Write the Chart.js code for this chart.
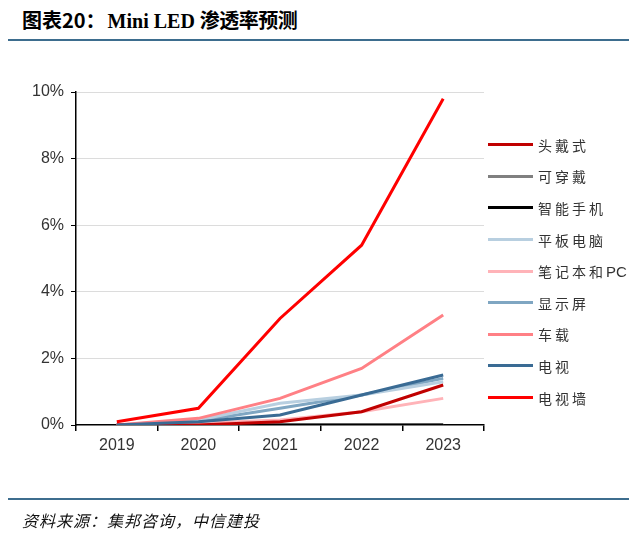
<!DOCTYPE html>
<html><head><meta charset="utf-8">
<script src="https://cdn.jsdelivr.net/npm/chart.js@4"></script>
<style>
html,body{margin:0;padding:0;background:#fff;}
#wrap{position:relative;width:629px;height:540px;overflow:hidden;}
#title{position:absolute;left:22px;top:5px;font-size:20px;font-weight:bold;color:#000;white-space:nowrap;}
#title .a{font-family:"Noto Sans CJK SC";}
#title .b{font-family:"Liberation Serif","Noto Sans CJK SC";margin-left:2px;}
.rule{position:absolute;left:8px;width:621px;height:2px;background:#3d6d8e;}
#src{position:absolute;left:22px;top:508px;font-family:"Noto Sans CJK SC";font-style:italic;font-size:16px;color:#111;white-space:nowrap;letter-spacing:1px;}
#c{position:absolute;left:0;top:0;}
#legend{position:absolute;left:488px;top:129px;}
.li{display:flex;align-items:center;height:31.6px;white-space:nowrap;}
.sw{width:45px;height:3px;margin-right:5px;}
.lt{font-family:"Noto Sans CJK SC";font-size:14px;letter-spacing:3px;color:#333;}
.lt .pc{font-family:"Liberation Sans";letter-spacing:0;font-size:15px;}
</style></head>
<body><div id="wrap">
<div id="title"><span class="a">图表20：</span><span class="b">Mini LED <span class="a" style="letter-spacing:-0.5px">渗透率预测</span></span></div>
<div class="rule" style="top:39px"></div>
<canvas id="c" width="629" height="540"></canvas>
<div id="legend"></div>
<div class="rule" style="top:498px"></div>
<div id="src">资料来源：集邦咨询，中信建投</div>
</div>
<script>
const years = ['2019','2020','2021','2022','2023'];
const seriesNames = ['头戴式','可穿戴','智能手机','平板电脑','笔记本和PC','显示屏','车载','电视','电视墙'];
const seriesColors = ['#c00000','#808080','#000000','#b8cfe0','#ffb3b8','#7fa6c2','#ff8085','#3a6b94','#ff0000'];
const headset   = [0, 0, 0.1, 0.4, 1.2];
const wearable  = [0, 0, 0, 0, 0];
const phone     = [0, 0, 0, 0, 0];
const tablet    = [0, 0.15, 0.65, 0.9, 1.3];
const notebook  = [0, 0.05, 0.15, 0.4, 0.8];
const monitor   = [0, 0.12, 0.5, 0.9, 1.4];
const vehicle   = [0, 0.2, 0.8, 1.7, 3.3];
const tv        = [0, 0.1, 0.3, 0.9, 1.5];
const tvWall    = [0.1, 0.5, 3.2, 5.4, 9.8];
const yTicks = [0, 2, 4, 6, 8, 10];
const allValues = [headset, wearable, phone, tablet, notebook, monitor, vehicle, tv, tvWall];
const drawOrder = [2, 8, 7, 5, 4, 6, 3, 1, 0];

const datasets = seriesNames.map((n, i) => ({
  label: n, data: allValues[i], borderColor: seriesColors[i], backgroundColor: seriesColors[i],
  borderWidth: 3, pointRadius: 0, tension: 0, fill: false, order: drawOrder[i]
}));

const lg = document.getElementById('legend');
seriesNames.forEach((n, i) => {
  const d = document.createElement('div'); d.className = 'li';
  const txt = n.replace('PC', '<span class="pc">PC</span>');
  d.innerHTML = '<div class="sw" style="background:' + seriesColors[i] + '"></div><span class="lt">' + txt + '</span>';
  lg.appendChild(d);
});

new Chart(document.getElementById('c'), {
  type: 'line',
  data: { labels: years, datasets },
  options: {
    responsive: false, animation: false,
    layout: { padding: { top: 92, right: 145, bottom: 83, left: 0 } },
    plugins: { legend: { display: false }, tooltip: { enabled: false } },
    scales: {
      x: {
        offset: true,
        grid: { drawOnChartArea: false, drawTicks: true, tickLength: 6, tickColor: '#000', offset: true, lineWidth: 1.5 },
        border: { color: '#000', width: 1.5 },
        ticks: { color: '#333', font: { family: 'Liberation Sans', size: 16 }, padding: 5 },
        afterFit: s => { s.height = 32; }
      },
      y: {
        min: 0, max: 10,
        afterBuildTicks: s => { s.ticks = yTicks.map(v => ({ value: v })); },
        grid: { color: c => c.tick && c.tick.value === 0 ? 'rgba(0,0,0,0)' : '#dcdcdc', tickColor: '#000', tickLength: 5, lineWidth: 1 },
        border: { color: '#000', width: 1.5 },
        ticks: { color: '#333', font: { family: 'Liberation Sans', size: 16 }, padding: 7, callback: v => v + '%' },
        afterFit: s => { s.width = 76; }
      }
    }
  }
});
</script>
</body></html>
